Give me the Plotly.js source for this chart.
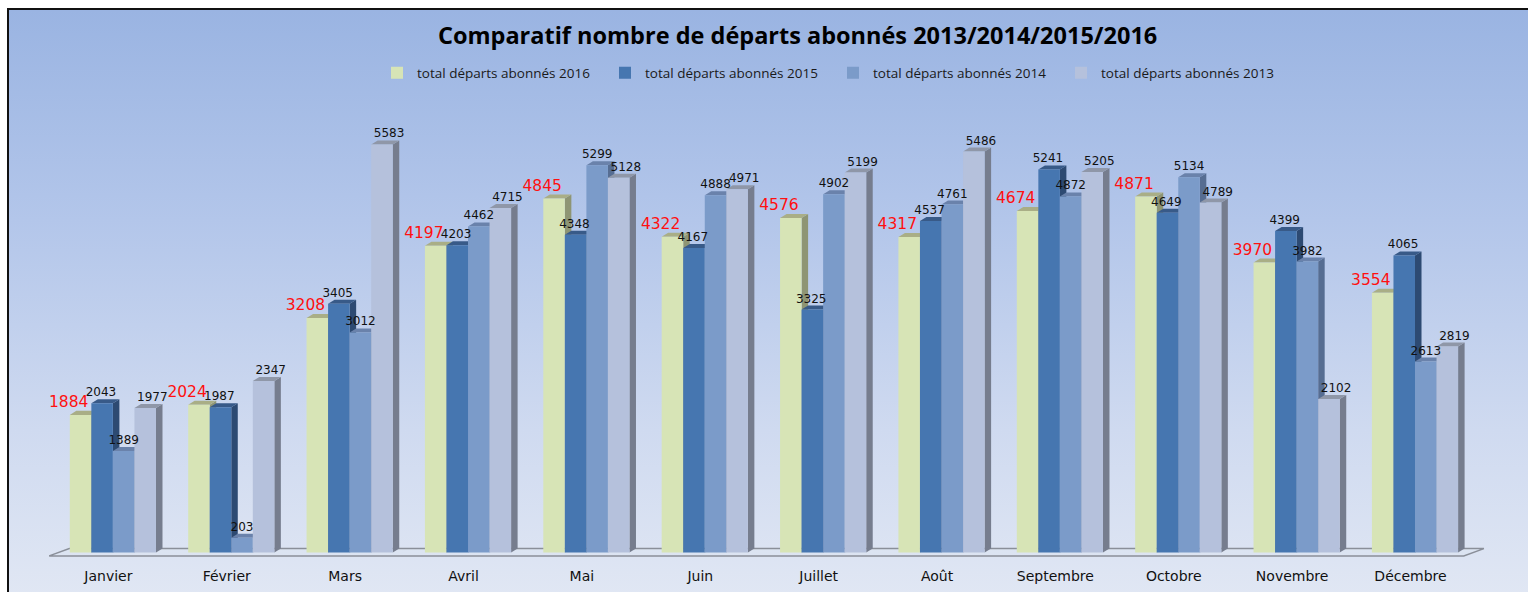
<!DOCTYPE html>
<html>
<head>
<meta charset="utf-8">
<script src="https://cdn.plot.ly/plotly-3.0.1.min.js"></script>
<style>
html,body{margin:0;padding:0;background:#ffffff;width:1528px;height:592px;overflow:hidden;}
#frame{position:absolute;left:7px;top:8px;width:1540px;height:600px;border:2px solid #111;
background:linear-gradient(to bottom,#9ab4e2 0%,#b3c6ea 35%,#cfdaf0 70%,#e2e8f4 100%);}
#chart{position:absolute;left:0;top:0;width:1528px;height:592px;}
</style>
</head>
<body>
<div id="frame"></div>
<div id="chart"></div>
<script>
// ---- data ----
const months = ["Janvier","Février","Mars","Avril","Mai","Juin","Juillet","Août","Septembre","Octobre","Novembre","Décembre"];
const seriesNames = ["total départs abonnés 2016","total départs abonnés 2015","total départs abonnés 2014","total départs abonnés 2013"];
const v2016 = [1884, 2024, 3208, 4197, 4845, 4322, 4576, 4317, 4674, 4871, 3970, 3554];
const v2015 = [2043, 1987, 3405, 4203, 4348, 4167, 3325, 4537, 5241, 4649, 4399, 4065];
const v2014 = [1389, 203, 3012, 4462, 5299, 4888, 4902, 4761, 4872, 5134, 3982, 2613];
const v2013 = [1977, 2347, 5583, 4715, 5128, 4971, 5199, 5486, 5205, 4789, 2102, 2819];

// ---- style ----
const allValues = [v2016, v2015, v2014, v2013];
const frontColors = ["#d7e4b6", "#4676b0", "#7b9bc9", "#b5c1dc"];
const sideColors  = ["#8e9574", "#2d4a72", "#566d92", "#767d8e"];
const topColors   = ["#a9ae86", "#385a88", "#6a82ab", "#8f97a8"];
const textColors  = ["#ff1010", "#111111", "#111111", "#111111"];
const textSizes   = [15.5, 12, 12, 12];
const labelShift  = [-0.1, -0.01, 0.0, 0.06];
const barW = 0.182;
const groupShift = 0.038;
const dx = 0.055, dy = 55;

const idx = months.map((m, i) => i);
const traces = [];
const labelTraces = [];
const shapes = [];

// floor
shapes.push({type:"path", xref:"x", yref:"y", layer:"below",
  path:`M -0.5,-45 L 11.45,-45 L 11.62,55 L -0.33,55 Z`,
  fillcolor:"rgba(220,228,242,0.35)", line:{color:"#8a8f99", width:1.5}});

allValues.forEach((vals, k) => {
  const off = (k - 1.5) * barW + groupShift;
  const xs = idx.map(i => i + off);
  traces.push({
    type:"bar", name:seriesNames[k], x:xs, y:vals, width:barW,
    marker:{color:frontColors[k], line:{width:0}},
    hoverinfo:"x+y"
  });
  labelTraces.push({
    type:"scatter", mode:"text", showlegend:false,
    x:xs.map(x => x + labelShift[k]), y:vals.map(v => v + dy),
    text:vals.map(String), textposition:"top center",
    textfont:{color:textColors[k], size:textSizes[k], family:"DejaVu Sans"},
    cliponaxis:false, hoverinfo:"skip"
  });
  vals.forEach((v, i) => {
    const x0 = xs[i] - barW/2, x1 = xs[i] + barW/2;
    // right side face
    shapes.push({type:"path", xref:"x", yref:"y", layer:"below",
      path:`M ${x1},0 L ${x1+dx},${dy} L ${x1+dx},${v+dy} L ${x1},${v} Z`,
      fillcolor:sideColors[k], line:{width:0}});
    // top face
    shapes.push({type:"path", xref:"x", yref:"y", layer:"below",
      path:`M ${x0},${v} L ${x0+dx},${v+dy} L ${x1+dx},${v+dy} L ${x1},${v} Z`,
      fillcolor:topColors[k], line:{width:0}});
  });
});

const layout = {
  width:1528, height:592,
  paper_bgcolor:"rgba(0,0,0,0)", plot_bgcolor:"rgba(0,0,0,0)",
  margin:{l:35, r:37, t:114, b:35},
  barmode:"overlay",
  title:{text:"Comparatif nombre de départs abonnés 2013/2014/2015/2016",
    font:{family:"Open Sans", size:23.5, color:"#000", weight:"bold"},
    xref:"container", x:0.522, xanchor:"center", yref:"container", y:1-36/592, yanchor:"middle"},
  legend:{orientation:"h", x:(377-35)/1456, xanchor:"left", y:1+(114-73)/443, yanchor:"middle",
    font:{family:"Open Sans", size:13.5, color:"#1a1a1a"},
    entrywidth:183, entrywidthmode:"pixels", itemwidth:30,
    bgcolor:"rgba(0,0,0,0)", traceorder:"normal"},
  xaxis:{type:"linear", range:[-0.62, 11.68], tickvals:idx, ticktext:months,
    showgrid:false, zeroline:false, showline:false, ticks:"",
    tickfont:{family:"DejaVu Sans", size:14, color:"#111"}, ticklabelstandoff:9, fixedrange:true},
  yaxis:{range:[-60, 6000], visible:false, showgrid:false, zeroline:false, fixedrange:true},
  shapes:shapes,
  showlegend:true
};

Plotly.newPlot("chart", traces.concat(labelTraces), layout, {displayModeBar:false, staticPlot:true});
</script>
</body>
</html>
